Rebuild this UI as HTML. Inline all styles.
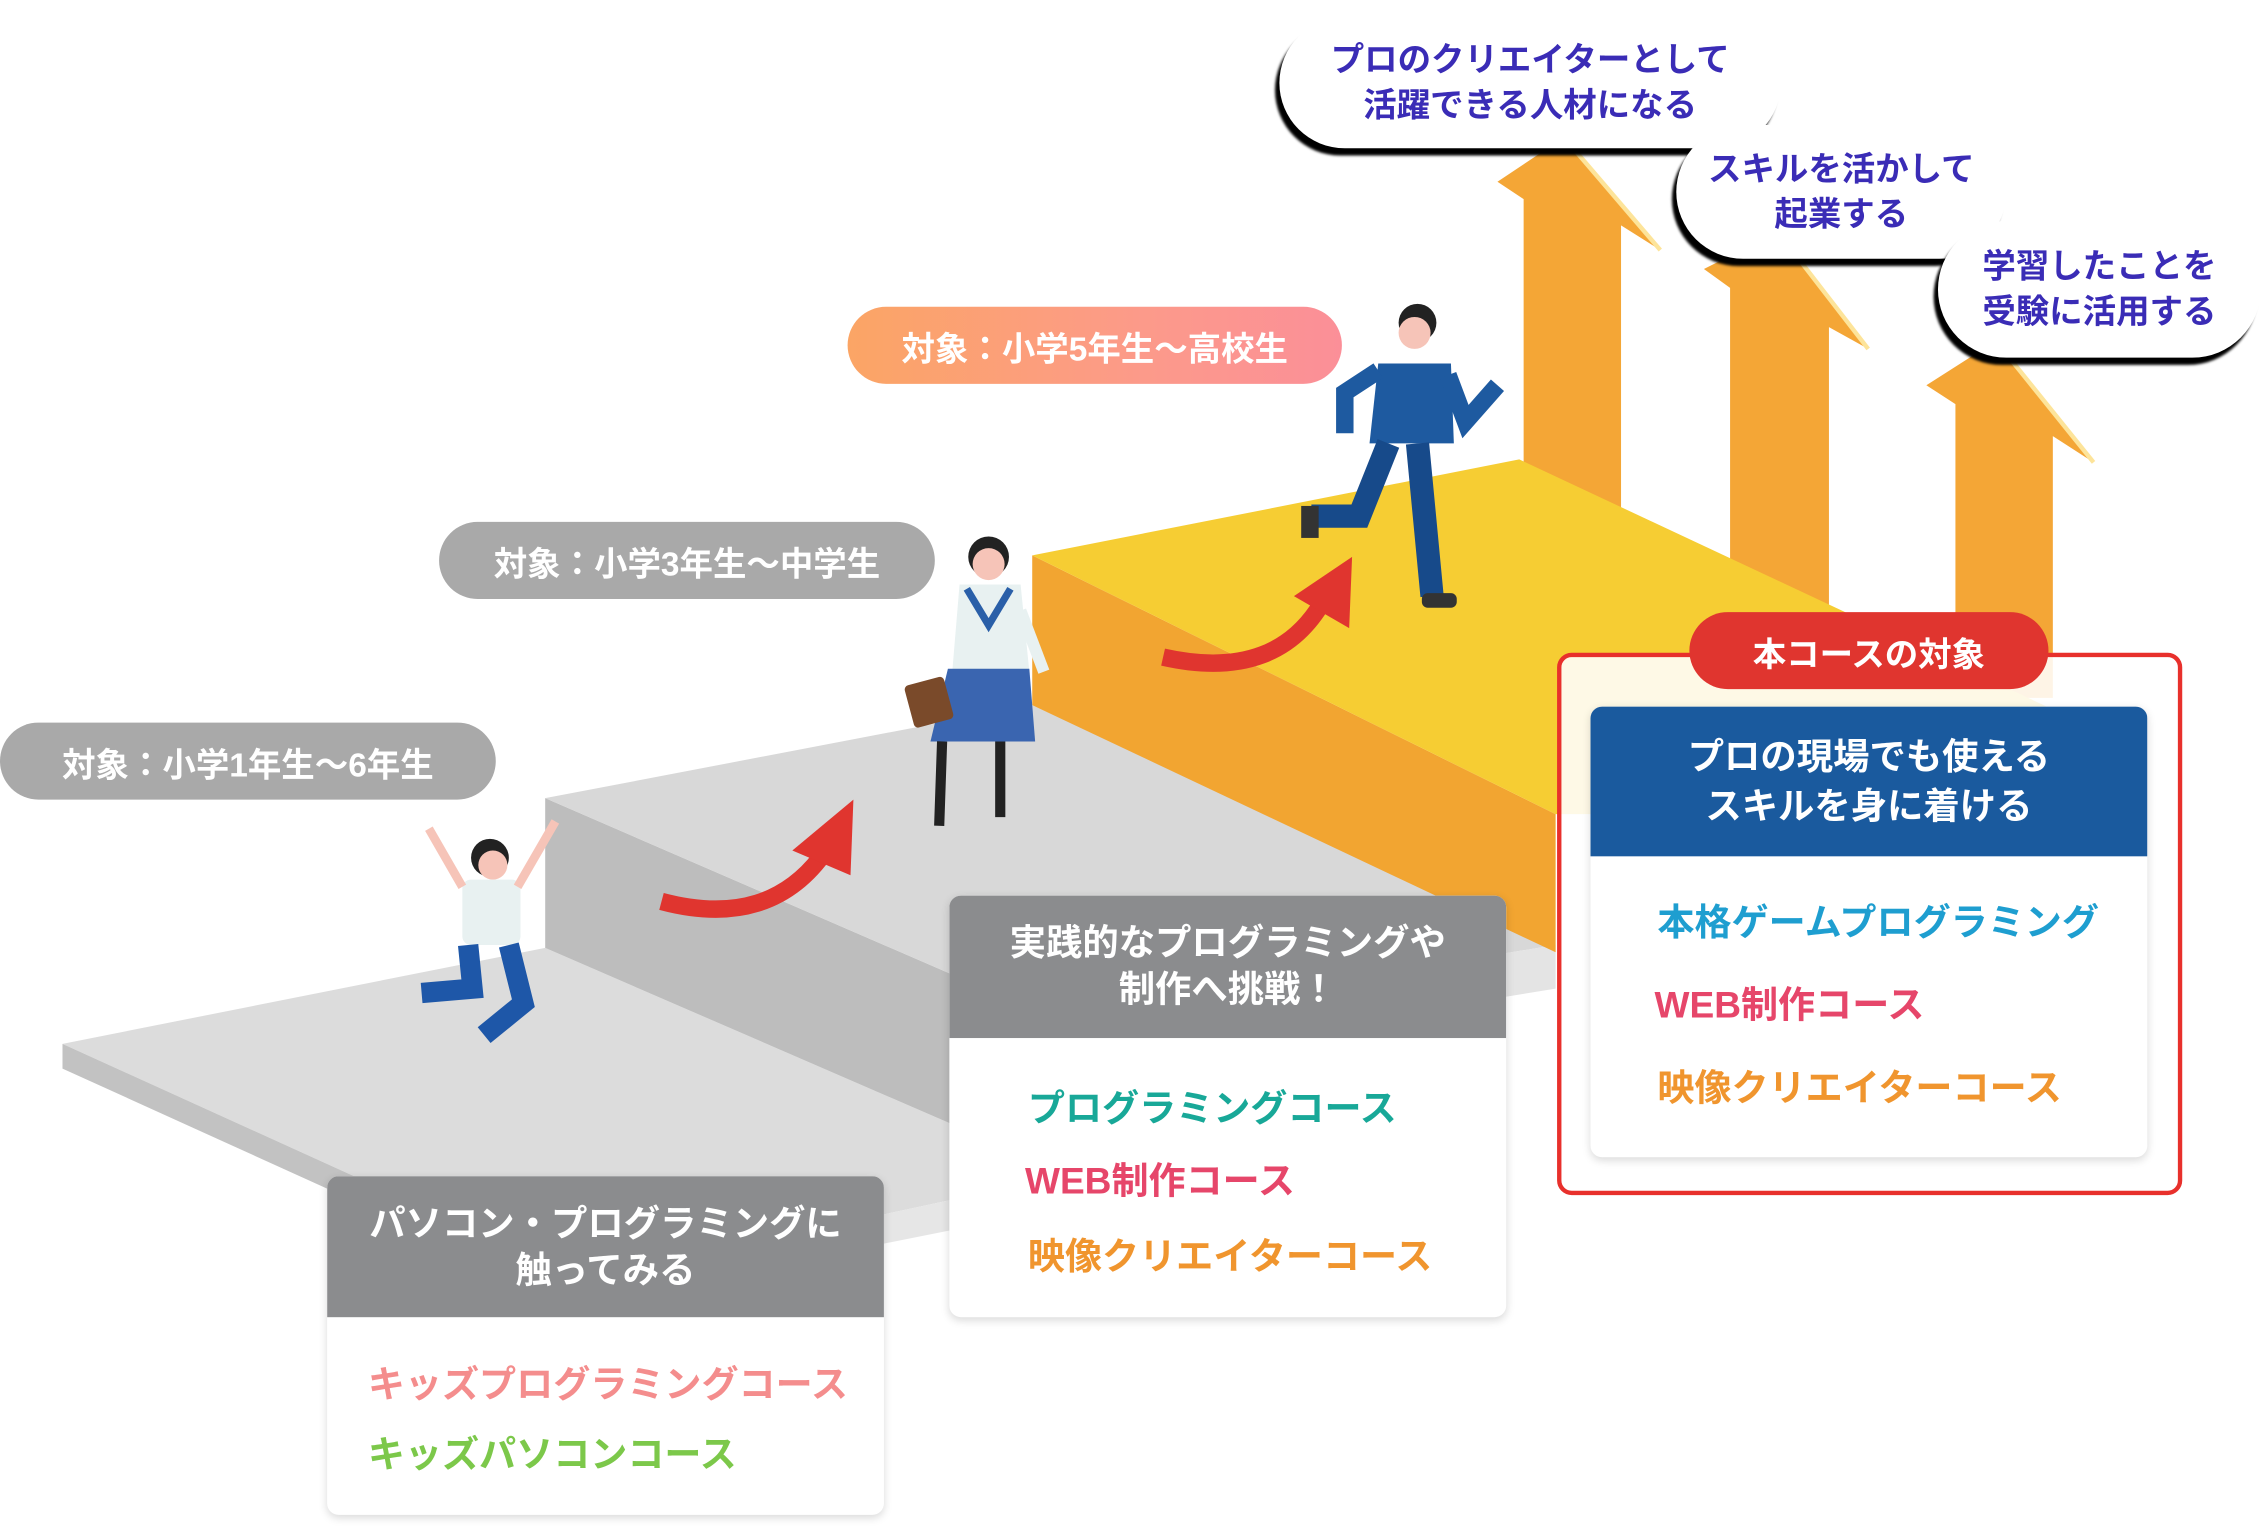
<!DOCTYPE html>
<html><head><meta charset="utf-8">
<style>
html,body{margin:0;padding:0;background:#fff;width:2268px;height:1532px;overflow:hidden}
#s{position:absolute;left:0;top:0;width:1560px;height:1054px;transform:scale(1.45385);transform-origin:0 0;font-family:"Liberation Sans","Noto Sans CJK JP",sans-serif;font-weight:700}
.a{position:absolute}
.pill{position:absolute;border-radius:27px;color:#fff;font-size:23px;display:flex;align-items:center;justify-content:center}
.bub{position:absolute;background:#fff;border-radius:48px;color:#3a2cb6;font-size:23px;line-height:31px;text-align:center;display:flex;align-items:center;justify-content:center;filter:drop-shadow(-3px 5px 1px #000)}
.box{position:absolute;background:#fff;border-radius:8px;box-shadow:0 2px 6px rgba(0,0,0,.15);overflow:hidden}
.hd{color:#fff;font-size:25px;line-height:32px;text-align:center;display:flex;align-items:center;justify-content:center}
.c{position:absolute;font-size:25.5px;white-space:nowrap}
</style></head><body><div id="s">
<svg class="a" style="left:0;top:0" width="1560" height="1054">
<g fill="#f4a636">
<polygon points="1030,125 1075,95 1142,172 1115,155 1115,360 1048,330 1048,137"/>
<polygon points="1172,185 1222,160 1285,240 1258,225 1258,430 1190,410 1190,198"/>
<polygon points="1325,265 1372,235 1440,318 1412,300 1412,480 1345,480 1345,278"/>
</g>
<g stroke="#fde49a" stroke-width="3"><line x1="1077" y1="96" x2="1142" y2="172"/><line x1="1224" y1="161" x2="1285" y2="240"/><line x1="1374" y1="236" x2="1440" y2="318"/></g>
<polygon points="43,718 375,652 735,808 400,880" fill="#dcdcdc"/>
<polygon points="43,718 43,735 400,897 400,880" fill="#c2c2c2"/>
<polygon points="400,880 735,808 735,830 400,897" fill="#e6e6e6"/>
<polygon points="375,549 735,705 735,808 375,652" fill="#bdbdbd"/>
<polygon points="375,549 710,485 1070,650 735,705" fill="#d8d8d8"/>
<polygon points="735,705 1070,650 1070,680 735,735" fill="#e4e4e4"/>
<polygon points="710,382 1070,560 1070,655 710,485" fill="#f2a531"/>
<polygon points="710,382 1045,316 1412,488 1412,560 1070,560" fill="#f6cd33"/>
<path d="M455,620 Q530,640 568,585" stroke="#e0352f" stroke-width="12" fill="none"/>
<polygon points="545,585 587,550 585,602" fill="#e0352f"/>
<path d="M800,452 Q880,470 912,410" stroke="#e0352f" stroke-width="12" fill="none"/>
<polygon points="890,410 930,383 928,432" fill="#e0352f"/>
<g>
<circle cx="337" cy="590" r="13" fill="#222"/><circle cx="339" cy="595" r="10" fill="#f6c4b8"/>
<rect x="318" y="605" width="40" height="45" rx="6" fill="#e8f1f1"/>
<path d="M318,610 L295,570 M356,610 L382,565" stroke="#f6c4b8" stroke-width="6"/>
<path d="M322,650 L325,680 L290,683 M350,650 L360,690 L333,712" stroke="#1e57a8" stroke-width="14" fill="none"/>
</g>
<g>
<circle cx="680" cy="383" r="14" fill="#222"/><circle cx="680" cy="388" r="11" fill="#f6c4b8"/>
<path d="M660,402 L702,402 L708,462 L655,462 Z" fill="#e8f1f1"/>
<path d="M665,405 L680,430 L695,405" stroke="#2a5fa8" stroke-width="5" fill="none"/>
<path d="M652,460 L708,460 L712,510 L640,510 Z" fill="#3a65b0"/>
<rect x="625" y="468" width="28" height="30" rx="3" fill="#7a4a2a" transform="rotate(-15 639 483)"/>
<path d="M648,510 L646,568 M688,510 L688,562" stroke="#222" stroke-width="7"/>
<path d="M702,420 L718,462" stroke="#e8f1f1" stroke-width="8"/>
</g>
<g>
<circle cx="975" cy="222" r="13" fill="#222"/><circle cx="973" cy="229" r="11" fill="#f6c4b8"/>
<path d="M948,250 L998,250 L1000,305 L942,305 Z" fill="#1e5aa0"/>
<path d="M948,255 L925,270 L925,298 M996,258 L1008,290 L1030,265" stroke="#1e5aa0" stroke-width="12" fill="none"/>
<path d="M955,305 L935,355 L902,355 M975,305 L985,410" stroke="#174a8a" stroke-width="16" fill="none"/>
<rect x="895" y="348" width="12" height="22" fill="#333"/><rect x="978" y="408" width="24" height="10" rx="4" fill="#333"/>
</g>
</svg>

<div class="pill" style="left:0;top:497px;width:341px;height:53px;background:#a9a9a9">対象：小学1年生〜6年生</div>
<div class="pill" style="left:302px;top:359px;width:341px;height:53px;background:#a9a9a9">対象：小学3年生〜中学生</div>
<div class="pill" style="left:583px;top:211px;width:340px;height:53px;background:linear-gradient(90deg,#fba565,#fc9a8a 60%,#fb8f98)">対象：小学5年生〜高校生</div>

<div class="bub" style="left:880px;top:12px;width:345px;height:90px">プロのクリエイターとして<br>活躍できる人材になる</div>
<div class="bub" style="left:1153px;top:86px;width:227px;height:92px">スキルを活かして<br>起業する</div>
<div class="bub" style="left:1333px;top:152px;width:222px;height:94px">学習したことを<br>受験に活用する</div>

<div class="box" style="left:225px;top:809px;width:383px;height:233px">
<div class="hd" style="background:#8b8c8e;height:97px">パソコン・プログラミングに<br>触ってみる</div>
<div class="c" style="left:28px;top:123px;color:#f48d8d">キッズプログラミングコース</div>
<div class="c" style="left:28px;top:171px;color:#7cc84a">キッズパソコンコース</div>
</div>
<div class="box" style="left:653px;top:616px;width:383px;height:290px">
<div class="hd" style="background:#8b8c8e;height:98px">実践的なプログラミングや<br>制作へ挑戦！</div>
<div class="c" style="left:54px;top:126px;color:#18a898">プログラミングコース</div>
<div class="c" style="left:52px;top:176px;color:#e6466a">WEB制作コース</div>
<div class="c" style="left:54px;top:228px;color:#f0952e">映像クリエイターコース</div>
</div>
<div class="a" style="left:1071px;top:449px;width:424px;height:367px;border:3px solid #e8302c;border-radius:10px;background:rgba(255,255,255,.88)"></div>
<div class="box" style="left:1094px;top:486px;width:383px;height:310px">
<div class="hd" style="background:#1a5a9e;height:103px;font-size:25px;line-height:34px">プロの現場でも使える<br>スキルを身に着ける</div>
<div class="c" style="left:46px;top:128px;color:#1e9ed0">本格ゲームプログラミング</div>
<div class="c" style="left:44px;top:185px;color:#e6466a">WEB制作コース</div>
<div class="c" style="left:46px;top:242px;color:#f0952e">映像クリエイターコース</div>
</div>
<div class="pill" style="left:1162px;top:421px;width:247px;height:53px;background:#e0352f">本コースの対象</div>
</div></body></html>
